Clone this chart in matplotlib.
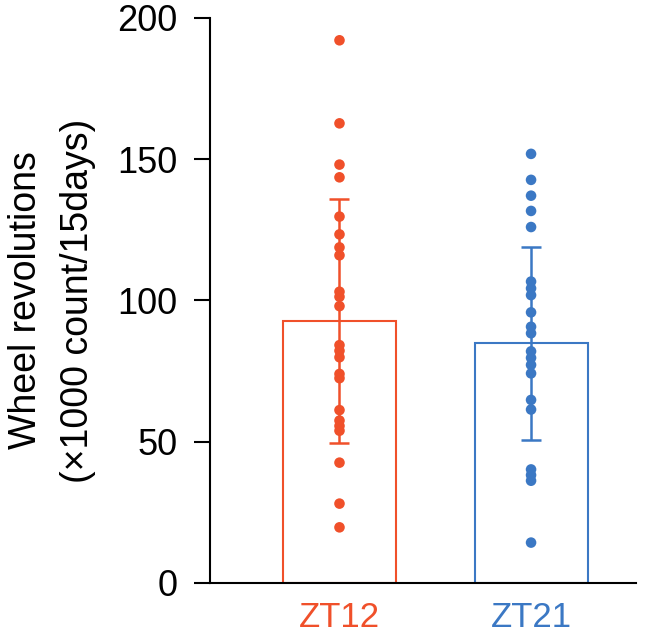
import matplotlib
matplotlib.use("Agg")
import matplotlib.pyplot as plt
import numpy as np

plt.rcParams["font.family"] = ["Liberation Sans", "DejaVu Sans"]

# Data
groups = ["ZT12", "ZT21"]
bar_means = [92.7, 84.8]
bar_sd = [43.2, 34.3]
zt12_values = [192.1, 162.7, 148.1, 143.6, 129.7, 123.4, 118.8, 116.0,
               103.1, 101.3, 98.0, 84.2, 82.2, 79.9, 74.0, 72.5, 61.2,
               57.5, 55.6, 53.9, 42.6, 28.1, 19.7]
zt21_values = [151.9, 142.7, 137.1, 131.7, 126.0, 106.7, 104.3, 101.9,
               95.8, 90.7, 88.4, 82.0, 79.7, 77.2, 74.2, 64.8, 61.4,
               40.2, 38.2, 36.2, 14.3]
y_ticks = [0, 50, 100, 150, 200]

colors = ["#F0502A", "#3B78C4"]
points = [zt12_values, zt21_values]

fig = plt.figure(figsize=(6.66, 6.33), dpi=100)
ax = fig.add_axes([0.3153, 0.079, 0.955 - 0.3153, 0.9716 - 0.079])

x = np.arange(len(groups))
for i in range(len(groups)):
    ax.bar(x[i], bar_means[i], width=0.59, facecolor="white",
           edgecolor=colors[i], linewidth=1.5, zorder=2)
    ax.errorbar(x[i], bar_means[i], yerr=bar_sd[i], fmt="none",
                ecolor=colors[i], elinewidth=1.8, capsize=7.5,
                capthick=1.8, zorder=3)
    ax.scatter(np.full(len(points[i]), x[i]), points[i], s=58,
               color=colors[i], edgecolors="none", zorder=4)

ax.set_xlim(-0.676, 1.548)
ax.set_ylim(0, 200)
ax.set_yticks(y_ticks)
ax.set_xticks(x)
ax.set_xticklabels(groups, fontsize=25)
for lbl, c in zip(ax.get_xticklabels(), colors):
    lbl.set_color(c)

ax.tick_params(axis="y", length=11.5, width=1.5, pad=12, labelsize=26,
               direction="out")
ax.tick_params(axis="x", length=0, pad=13)

for side in ["top", "right"]:
    ax.spines[side].set_visible(False)
ax.spines["left"].set_linewidth(1.5)
ax.spines["bottom"].set_linewidth(1.5)

ax.set_ylabel("Wheel revolutions\n(\u00d71000 count/15days)", fontsize=27,
              linespacing=1.58)
ax.yaxis.set_label_coords(-0.268, 0.5)

fig.savefig("out.png", dpi=100)
